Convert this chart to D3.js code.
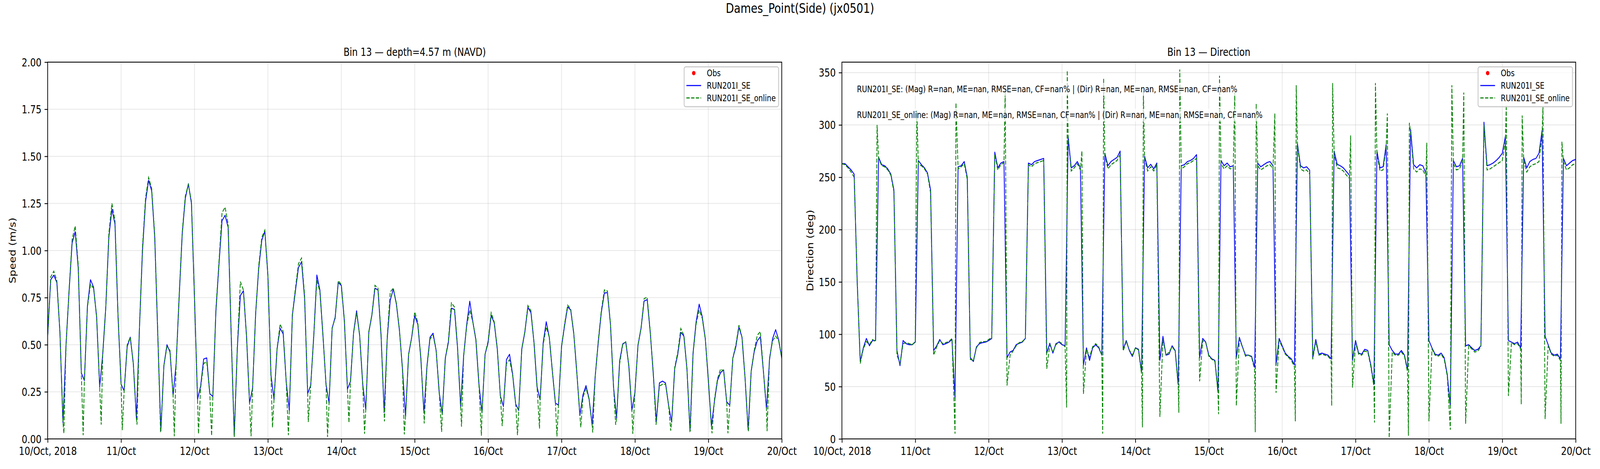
<!DOCTYPE html>
<html>
<head>
<meta charset="utf-8">
<script src="https://cdn.jsdelivr.net/npm/d3@7"></script>
<style>
  html, body { margin: 0; padding: 0; background: #ffffff; overflow: hidden; }
  svg { display: block; font-family: "DejaVu Sans", sans-serif; }
</style>
</head>
<body>
<svg id="chart" viewBox="0 0 5000 1200" preserveAspectRatio="none"></svg>
<script>
  // ---- data (hourly from 10/Oct 2018 00:00 UTC) ----
  const figTitle = "Dames_Point(Side) (jx0501)";
  const panelTitles = ["Bin 13 \u2014 depth=4.57 m (NAVD)", "Bin 13 \u2014 Direction"];
  const yLabels = ["Speed (m/s)", "Direction (deg)"];
  const seriesNames = ["Obs", "RUN201I_SE", "RUN201I_SE_online"];
  const dayLabels = ["10/Oct, 2018", "11/Oct", "12/Oct", "13/Oct", "14/Oct", "15/Oct",
                     "16/Oct", "17/Oct", "18/Oct", "19/Oct", "20/Oct"];
  const speedTicks = [0, 0.25, 0.5, 0.75, 1.0, 1.25, 1.5, 1.75, 2.0];
  const dirTicks = [0, 50, 100, 150, 200, 250, 300, 350];
  const statLines = [
    "RUN201I_SE: (Mag) R=nan, ME=nan, RMSE=nan, CF=nan% | (Dir) R=nan, ME=nan, RMSE=nan, CF=nan%",
    "RUN201I_SE_online: (Mag) R=nan, ME=nan, RMSE=nan, CF=nan% | (Dir) R=nan, ME=nan, RMSE=nan, CF=nan%"
  ];

  const obsSpeed = [];
  const obsDir = [];

  const speedRun = [
    0.55, 0.845, 0.869, 0.83, 0.567, 0.086, 0.50, 0.786, 1.04, 1.10, 0.905, 0.35, 0.31, 0.706, 0.845, 0.806, 0.647, 0.275, 0.45, 0.70, 1.07, 1.22, 1.14, 0.65,
    0.29, 0.255, 0.49, 0.54, 0.40, 0.11, 0.587, 1.0, 1.26, 1.373, 1.316, 1.07, 0.55, 0.042, 0.39, 0.50, 0.46, 0.23, 0.40, 0.756, 1.09, 1.277, 1.354, 1.25,
    0.746, 0.21, 0.28, 0.424, 0.43, 0.24, 0.225, 0.677, 0.925, 1.158, 1.187, 1.123, 0.548, 0.017, 0.478, 0.761, 0.786, 0.548, 0.19, 0.27, 0.667, 0.905, 1.054, 1.103,
    0.865, 0.339, 0.21, 0.478, 0.587, 0.557, 0.30, 0.15, 0.657, 0.786, 0.91, 0.94, 0.746, 0.24, 0.285, 0.548, 0.87, 0.79, 0.548, 0.29, 0.19, 0.587, 0.647, 0.83,
    0.815, 0.627, 0.265, 0.305, 0.563, 0.68, 0.548, 0.29, 0.156, 0.567, 0.657, 0.80, 0.79, 0.548, 0.14, 0.528, 0.736, 0.796, 0.716, 0.577, 0.37, 0.12, 0.448, 0.538,
    0.654, 0.608, 0.428, 0.138, 0.387, 0.539, 0.561, 0.47, 0.248, 0.131, 0.428, 0.511, 0.694, 0.687, 0.483, 0.172, 0.442, 0.608, 0.731, 0.622, 0.525, 0.29, 0.138, 0.449,
    0.511, 0.656, 0.615, 0.476, 0.228, 0.172, 0.421, 0.449, 0.345, 0.186, 0.151, 0.476, 0.566, 0.698, 0.67, 0.511, 0.276, 0.207, 0.511, 0.622, 0.539, 0.359, 0.19, 0.179,
    0.49, 0.601, 0.701, 0.684, 0.559, 0.352, 0.124, 0.234, 0.283, 0.214, 0.075, 0.331, 0.511, 0.67, 0.774, 0.777, 0.608, 0.276, 0.11, 0.414, 0.504, 0.515, 0.387, 0.151,
    0.248, 0.497, 0.587, 0.732, 0.739, 0.566, 0.345, 0.093, 0.297, 0.307, 0.297, 0.179, 0.089, 0.373, 0.449, 0.566, 0.546, 0.373, 0.041, 0.456, 0.622, 0.715, 0.649, 0.532,
    0.311, 0.068, 0.20, 0.311, 0.352, 0.366, 0.196, 0.179, 0.428, 0.49, 0.594, 0.539, 0.324, 0.048, 0.359, 0.463, 0.521, 0.542, 0.359, 0.158, 0.421, 0.532, 0.58, 0.525,
    0.428
  ];

  const speedOnline = [
    0.55, 0.86, 0.89, 0.84, 0.57, 0.086, 0.50, 0.79, 1.06, 1.13, 0.92, 0.35, 0.31, 0.70, 0.82, 0.80, 0.65, 0.275, 0.45, 0.70, 1.09, 1.25, 1.16, 0.66,
    0.29, 0.255, 0.50, 0.54, 0.40, 0.11, 0.59, 1.02, 1.28, 1.388, 1.33, 1.08, 0.56, 0.042, 0.39, 0.49, 0.47, 0.23, 0.40, 0.77, 1.10, 1.29, 1.35, 1.26,
    0.75, 0.21, 0.27, 0.40, 0.41, 0.24, 0.225, 0.69, 0.94, 1.20, 1.23, 1.14, 0.56, 0.01, 0.49, 0.835, 0.79, 0.55, 0.19, 0.27, 0.67, 0.92, 1.07, 1.108,
    0.87, 0.34, 0.21, 0.48, 0.61, 0.57, 0.30, 0.15, 0.66, 0.80, 0.93, 0.96, 0.76, 0.24, 0.285, 0.55, 0.845, 0.78, 0.55, 0.29, 0.19, 0.59, 0.64, 0.84,
    0.82, 0.63, 0.265, 0.305, 0.56, 0.67, 0.55, 0.29, 0.156, 0.57, 0.66, 0.815, 0.80, 0.55, 0.14, 0.54, 0.78, 0.80, 0.72, 0.58, 0.37, 0.12, 0.45, 0.54,
    0.674, 0.62, 0.43, 0.138, 0.38, 0.53, 0.55, 0.47, 0.248, 0.131, 0.43, 0.52, 0.722, 0.70, 0.49, 0.172, 0.44, 0.60, 0.684, 0.62, 0.53, 0.29, 0.138, 0.45,
    0.52, 0.67, 0.62, 0.48, 0.228, 0.172, 0.40, 0.42, 0.34, 0.186, 0.151, 0.48, 0.57, 0.708, 0.68, 0.51, 0.276, 0.207, 0.50, 0.594, 0.54, 0.36, 0.19, 0.179,
    0.49, 0.61, 0.71, 0.69, 0.56, 0.35, 0.124, 0.22, 0.27, 0.21, 0.075, 0.33, 0.52, 0.68, 0.791, 0.785, 0.61, 0.276, 0.11, 0.40, 0.50, 0.515, 0.39, 0.151,
    0.248, 0.50, 0.59, 0.745, 0.752, 0.57, 0.345, 0.093, 0.28, 0.29, 0.29, 0.179, 0.089, 0.38, 0.46, 0.586, 0.55, 0.37, 0.041, 0.45, 0.61, 0.684, 0.64, 0.53,
    0.311, 0.068, 0.21, 0.32, 0.371, 0.36, 0.196, 0.179, 0.43, 0.50, 0.604, 0.54, 0.324, 0.048, 0.36, 0.47, 0.55, 0.57, 0.36, 0.158, 0.43, 0.52, 0.546, 0.52,
    0.43
  ];

  // online series has sharper minima between the hourly samples: [hour, speed]
  const speedOnlineDips = [
    [5.3, 0.03], [11.6, 0.02], [17.5, 0.076], [24.4, 0.047], [29.2, 0.076], [36.9, 0.04], [41.4, 0.014],
    [49.3, 0.027], [53.6, 0.017], [66.5, 0.014], [73.5, 0.06], [78.7, 0.02], [85.2, 0.09], [91.5, 0.01],
    [98.5, 0.086], [103.6, 0.027], [110.1, 0.093], [116.6, 0.024], [123.1, 0.082], [128.8, 0.037],
    [135.3, 0.065], [141.8, 0.017], [148.6, 0.068], [153.6, 0.02], [160.8, 0.055], [166.5, 0.013],
    [174.3, 0.062], [178.2, 0.034], [185.7, 0.075], [191.3, 0.027], [198.9, 0.075], [203.7, 0.044],
    [210.1, 0.044], [217.2, 0.03], [222.4, 0.03], [229.1, 0.041], [235.2, 0.041]
  ];

  const dirRun = [
    263, 263, 260, 257, 253, 150, 74, 87, 96, 89, 94, 94, 269, 262, 261, 258, 253, 238, 84.5, 70, 94, 91, 90, 90,
    92.5, 266, 262, 259, 254, 238, 84.5, 89, 95, 90, 91, 92.5, 95, 38.6, 260, 261, 265, 250, 77.6, 74, 88, 91, 92, 92.5,
    94, 96, 274, 259, 263.6, 265, 77.6, 83, 84.5, 90, 91.4, 92.5, 96, 263.6, 262, 265, 266, 267, 268, 82, 91.4, 82, 91, 92.5,
    90, 89, 289, 259, 261, 265, 259, 70.7, 87, 75, 87, 90, 87, 80, 273, 261, 265, 267, 269, 275, 85.6, 94, 84.5, 78.8,
    87, 85.6, 63.8, 270, 259, 262.4, 258, 263.6, 75, 98, 80, 81, 89, 84.5, 52, 261, 262, 265, 266, 268, 271.6, 77.6, 96, 92.5,
    80, 76.5, 75, 45.5, 266, 261, 263.6, 260, 261, 77.6, 97, 88, 80, 80, 78.8, 68.4, 263.6, 260, 262, 264, 265, 261, 70.7, 96,
    89, 82, 78.8, 76.5, 70.7, 282, 261, 259, 260, 256.7, 77.6, 95, 81, 82, 81, 80, 76.5, 275, 262.4, 261, 259, 255.5, 252, 75,
    94, 82, 81, 85.6, 84.5, 70.7, 52, 275, 259, 260, 281, 90, 84.5, 81, 81, 84.5, 80, 66, 295.6, 262, 259, 262, 261, 254,
    94, 87, 81, 80, 82, 77.6, 61.5, 31.7, 266, 260, 261, 268, 89, 90, 87, 84.5, 85.6, 89, 302.6, 261, 262, 263.6, 266, 269,
    273, 289, 94, 92.5, 91, 92.5, 87, 269, 259, 265, 267, 268, 273, 294.6, 98, 90, 82, 80, 81, 76.5, 268, 261, 263.6, 266,
    267
  ];

  const dirOnline = [
    263, 262, 259, 255, 250, 150, 72, 86, 93, 90, 95, 93, 268, 261, 260, 257, 252, 236, 80, 72, 91, 92, 91, 90,
    93, 262, 261, 258, 253, 235, 80, 88, 94, 91, 92, 93, 96, 5, 258, 260, 263, 248, 76, 75, 87, 92, 93, 93,
    95, 97, 272, 257, 262, 264, 51, 80, 84, 89, 92, 93, 96, 262, 260, 263, 264, 265, 266, 67, 90, 83, 90, 93,
    91, 88, 287, 256, 259, 263, 257, 43, 86, 78, 88, 91, 88, 80, 271, 258, 262, 264, 266, 272, 84, 93, 85, 80,
    87, 85, 62, 268, 256, 260, 256, 262, 21, 95, 80, 83, 88, 84, 50, 258, 260, 263, 264, 266, 268, 55, 94, 92,
    79, 76, 74, 44, 263, 258, 261, 258, 259, 31.7, 95, 88, 79, 80, 78, 66, 261, 257, 259, 261, 262, 258, 44, 94,
    88, 81, 78, 75, 69, 280, 258, 256, 257, 253, 76, 93, 80, 81, 80, 79, 75, 272, 259, 258, 256, 252, 249, 49,
    92, 81, 80, 84, 83, 69, 50, 272, 256, 257, 278, 1, 83, 80, 80, 83, 79, 64, 293, 258, 255, 258, 257, 251,
    16.8, 86, 80, 79, 81, 76, 60, 8.7, 263, 257, 258, 265, 14.5, 89, 86, 83, 84, 88, 300, 257, 258, 260, 262, 264,
    266, 284, 41, 92, 90, 91, 86, 266, 255, 260, 262, 263, 265, 290, 19, 89, 81, 79, 80, 75, 265, 257, 259, 262,
    263
  ];

  // overshoots of the online direction at the flow reversals: [hour, deg]
  const dirOnlineSpikes = [
    [11.5, 300], [24.5, 314], [37.3, 321], [53.4, 332], [73.5, 30], [73.7, 352], [78.5, 275],
    [85.3, 5], [85.6, 344], [98.3, 11], [98.6, 332], [110.2, 25], [110.5, 353], [123.2, 23.6],
    [123.5, 347], [128.5, 331], [135.2, 6.4], [135.5, 320], [141.6, 311], [148.3, 16.8], [148.6, 338],
    [160.2, 31.7], [160.5, 340], [166.4, 290], [174.2, 15.6], [174.5, 340], [178.4, 311], [185.3, 3],
    [185.6, 302], [191.3, 283], [199.5, 338], [203.4, 331], [217.3, 319], [222.2, 33], [222.5, 309],
    [229.3, 318], [235.2, 14.5], [235.5, 284]
  ];

  // ---- layout (drawn in a 5000x1200 frame, stretched to the window) ----
  const svg = d3.select("#chart")
    .attr("width", window.innerWidth)
    .attr("height", window.innerHeight);
  const axTop = 159, axBottom = 1123;
  const tickFont = 27.8, smallFont = 22.2;
  const t0 = Date.UTC(2018, 9, 10);
  const hourToDate = h => new Date(t0 + h * 3600e3);
  const dayDates = dayLabels.map((d, i) => hourToDate(i * 24));

  function hourly(values, extra) {
    const pts = values.map((v, h) => [h, v]).concat(extra || []);
    return pts.sort((a, b) => a[0] - b[0]);
  }

  const panels = [
    { left: 149, right: 2443, yDomain: [0, 2], ticks: speedTicks, fmt: d3.format(".2f"),
      obs: obsSpeed, run: hourly(speedRun), online: hourly(speedOnline, speedOnlineDips),
      title: panelTitles[0], ylabel: yLabels[0], ylabelX: 48.5, stats: false },
    { left: 2631, right: 4924, yDomain: [0, 360], ticks: dirTicks, fmt: d3.format("d"),
      obs: obsDir, run: hourly(dirRun), online: hourly(dirOnline, dirOnlineSpikes),
      title: panelTitles[1], ylabel: yLabels[1], ylabelX: 2541, stats: true }
  ];

  svg.append("text")
    .attr("x", 2500).attr("y", 33)
    .attr("text-anchor", "middle")
    .attr("font-size", 33.3)
    .text(figTitle);

  panels.forEach((p, pi) => drawPanel(p, pi));

  function drawPanel(p, pi) {
    const x = d3.scaleUtc().domain([dayDates[0], dayDates[dayDates.length - 1]]).range([p.left, p.right]);
    const y = d3.scaleLinear().domain(p.yDomain).range([axBottom, axTop]);
    const g = svg.append("g");

    // grid
    g.append("g").selectAll("line").data(dayDates).join("line")
      .attr("x1", d => x(d)).attr("x2", d => x(d))
      .attr("y1", axTop).attr("y2", axBottom)
      .attr("stroke", "#b0b0b0").attr("stroke-opacity", 0.3).attr("stroke-width", 2.2);
    g.append("g").selectAll("line").data(p.ticks).join("line")
      .attr("x1", p.left).attr("x2", p.right)
      .attr("y1", d => y(d)).attr("y2", d => y(d))
      .attr("stroke", "#b0b0b0").attr("stroke-opacity", 0.3).attr("stroke-width", 2.2);

    // clip
    const clipId = "clip" + pi;
    svg.append("clipPath").attr("id", clipId)
      .append("rect").attr("x", p.left).attr("y", axTop)
      .attr("width", p.right - p.left).attr("height", axBottom - axTop);

    const line = d3.line().x(d => x(hourToDate(d[0]))).y(d => y(d[1]));
    const plot = g.append("g").attr("clip-path", `url(#${clipId})`);
    plot.append("path").datum(p.run)
      .attr("d", line).attr("fill", "none")
      .attr("stroke", "#0000ff").attr("stroke-width", 2.5)
      .attr("stroke-linejoin", "round");
    plot.append("path").datum(p.online)
      .attr("d", line).attr("fill", "none")
      .attr("stroke", "#008000").attr("stroke-width", 2.5)
      .attr("stroke-dasharray", "10.3,4.4");
    plot.selectAll("circle").data(p.obs).join("circle")
      .attr("cx", d => x(hourToDate(d[0]))).attr("cy", d => y(d[1]))
      .attr("r", 5.5).attr("fill", "#ff0000");

    // spines
    g.append("rect")
      .attr("x", p.left).attr("y", axTop)
      .attr("width", p.right - p.left).attr("height", axBottom - axTop)
      .attr("fill", "none").attr("stroke", "#000").attr("stroke-width", 2.2);

    // axes
    const xAxis = g.append("g").attr("transform", `translate(0,${axBottom})`)
      .call(d3.axisBottom(x).tickValues(dayDates).tickFormat((d, i) => dayLabels[i])
        .tickSize(9.7).tickPadding(11.5));
    const yAxis = g.append("g").attr("transform", `translate(${p.left},0)`)
      .call(d3.axisLeft(y).tickValues(p.ticks).tickFormat(p.fmt)
        .tickSize(9.7).tickPadding(9.7));
    [xAxis, yAxis].forEach(a => {
      a.select(".domain").remove();
      a.selectAll(".tick line").attr("stroke", "#000").attr("stroke-width", 2.2);
      a.selectAll(".tick text").attr("fill", "#000")
        .attr("font-size", tickFont).attr("font-family", "DejaVu Sans");
    });
    yAxis.selectAll(".tick text").attr("dy", "0.36em");

    // titles
    g.append("text")
      .attr("x", (p.left + p.right) / 2).attr("y", 143)
      .attr("text-anchor", "middle").attr("font-size", tickFont)
      .text(p.title);
    g.append("text")
      .attr("transform", `translate(${p.ylabelX},${(axTop + axBottom) / 2}) rotate(-90)`)
      .attr("text-anchor", "middle").attr("font-size", tickFont)
      .text(p.ylabel);

    // stats text
    if (p.stats) {
      statLines.forEach((s, i) => {
        const base = 236 + i * 66;
        const bg = g.append("rect");
        const t = g.append("text")
          .attr("x", p.left + 47).attr("y", base)
          .attr("font-size", smallFont).text(s);
        const w = t.node().getComputedTextLength();
        bg.attr("x", p.left + 42).attr("y", base - 24)
          .attr("width", w + 10).attr("height", 33)
          .attr("fill", "#fff").attr("fill-opacity", 0.7);
      });
    }

    drawLegend(p.right);
  }

  function drawLegend(right) {
    const lg = svg.append("g").attr("transform", `translate(${right - 305},171)`);
    lg.append("rect")
      .attr("width", 295).attr("height", 102).attr("rx", 5).attr("ry", 5)
      .attr("fill", "#fff").attr("fill-opacity", 0.8)
      .attr("stroke", "#cccccc").attr("stroke-width", 2.8);
    const rows = lg.selectAll("g.row").data(seriesNames).join("g")
      .attr("class", "row")
      .attr("transform", (d, i) => `translate(0,${16 + i * 31.8})`);
    rows.each(function (d, i) {
      const r = d3.select(this);
      if (i === 0) {
        r.append("circle").attr("cx", 30).attr("cy", 0).attr("r", 5.5).attr("fill", "#ff0000");
      } else {
        r.append("line").attr("x1", 7).attr("x2", 53).attr("y1", 0).attr("y2", 0)
          .attr("stroke", i === 1 ? "#0000ff" : "#008000").attr("stroke-width", 2.8)
          .attr("stroke-dasharray", i === 1 ? null : "10.3,4.4");
      }
      r.append("text").attr("x", 71).attr("y", 8)
        .attr("font-size", smallFont).text(d);
    });
  }
</script>
</body>
</html>
